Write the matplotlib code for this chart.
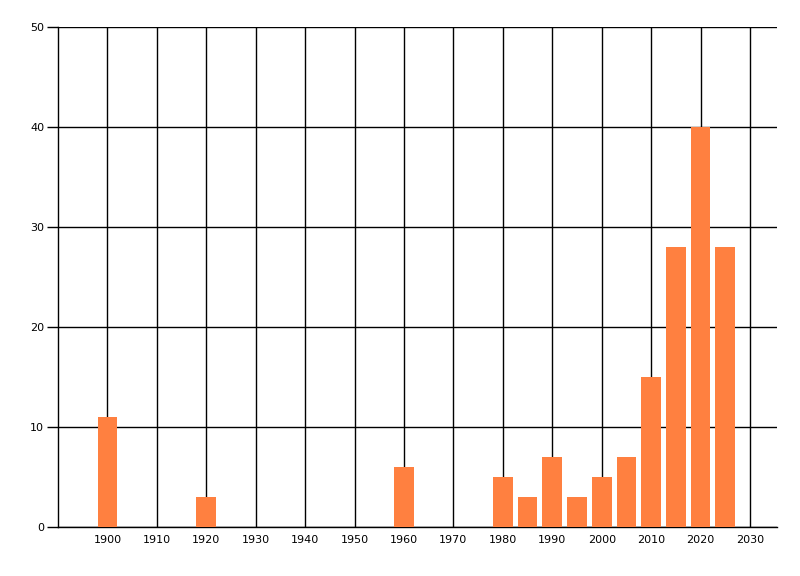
import matplotlib
matplotlib.use("Agg")
import matplotlib.pyplot as plt

years = [1900, 1920, 1960, 1980, 1985, 1990, 1995, 2000, 2005, 2010, 2015, 2020, 2025]
counts = [11, 3, 6, 5, 3, 7, 3, 5, 7, 15, 28, 40, 28]
x_ticks = list(range(1900, 2031, 10))
y_ticks = [0, 10, 20, 30, 40, 50]

fig = plt.figure(figsize=(8, 5.76), dpi=100)
ax = fig.add_axes([0.0725, 0.085, 0.899, 0.868])

ax.bar(years, counts, width=4, color='#FF8040', zorder=3)

ax.set_xlim(1890, 2035.5)
ax.set_ylim(0, 50)
ax.set_xticks(x_ticks)
ax.set_yticks(y_ticks)
ax.grid(True, color='black', linewidth=1, zorder=0)

for side in ['top', 'right']:
    ax.spines[side].set_visible(False)
ax.spines['left'].set_linewidth(1)
ax.spines['bottom'].set_linewidth(1)

ax.tick_params(axis='x', length=0, pad=6, labelsize=8)
ax.tick_params(axis='y', length=8, width=1, pad=2, labelsize=8)

fig.savefig('out.png', dpi=100)
